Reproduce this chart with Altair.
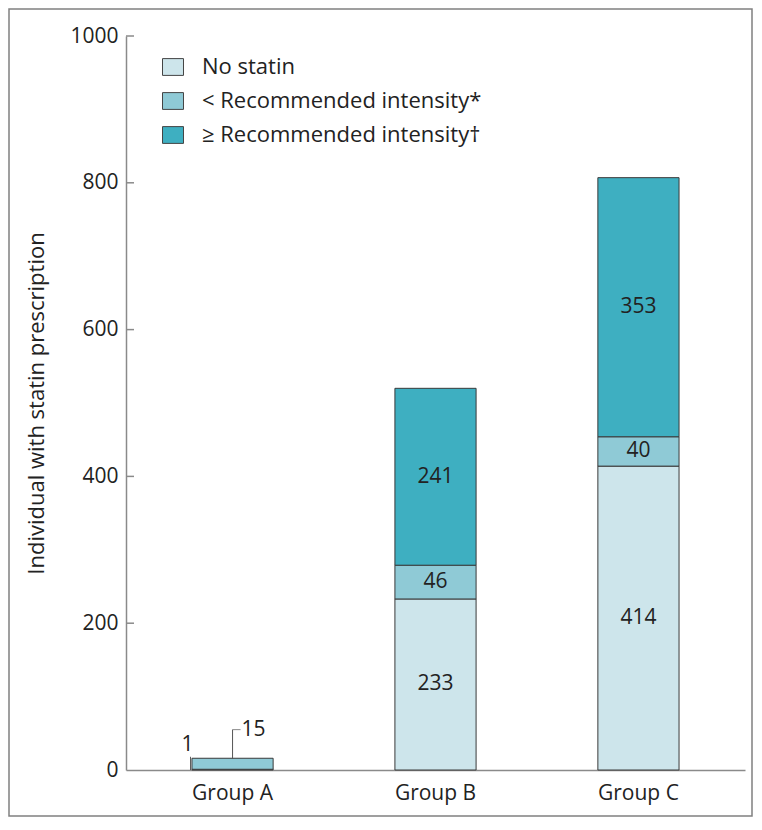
import altair as alt
import pandas as pd

groups = ["Group A", "Group B", "Group C"]
categories = ["No statin", "< Recommended intensity*", "≥ Recommended intensity†"]
no_statin = [1, 233, 414]
below_rec = [15, 46, 40]
at_or_above_rec = [0, 241, 353]
y_ticks = [0, 200, 400, 600, 800, 1000]
colors = ["#cde5eb", "#8fcad6", "#3eafc1"]

FONT = "Open Sans"

rows = []
for gi, g in enumerate(groups):
    base = 0
    for ci, (c, vals) in enumerate(zip(categories, [no_statin, below_rec, at_or_above_rec])):
        v = vals[gi]
        rows.append({"group": g, "cat": c, "order": ci, "value": v,
                     "y0": base, "y1": base + v, "mid": base + v / 2})
        base += v
df = pd.DataFrame(rows)
df_bars = df[df["value"] > 0]
df_labels = df[(df["group"] != "Group A") & (df["value"] > 0)]

W, H = 619, 734
PAD_L, PAD_T, PAD_R, PAD_B = 118, 28, 8, 47

xscale = alt.Scale(domain=groups, paddingInner=0.6, paddingOuter=0.325)
yscale = alt.Scale(domain=[0, 1000], nice=False)

bars = alt.Chart(df_bars).mark_bar(stroke="#3a3a3a", strokeWidth=1, clip=False).encode(
    x=alt.X("group:N", scale=xscale, sort=groups,
            axis=alt.Axis(title=None, labelAngle=0, ticks=False, labelFontSize=21,
                          labelPadding=12, domainColor="#8a8a8a", domainWidth=1.5,
                          labelColor="#222", labelFont=FONT)),
    y=alt.Y("y0:Q", scale=yscale,
            axis=alt.Axis(title="Individual with statin prescription", values=y_ticks,
                          format="d",
                          ticks=False, grid=False, labelFontSize=21, labelPadding=8,
                          labelColor="#222", labelFont=FONT, domainColor="#8a8a8a",
                          domainWidth=1.5, titleFontSize=22, titleFont=FONT,
                          titleFontWeight="normal", titleColor="#222", titlePadding=21)),
    y2="y1:Q",
    color=alt.Color("cat:N", scale=alt.Scale(domain=categories, range=colors),
                    legend=alt.Legend(title=None, orient="none", legendX=36, legendY=20,
                                      labelFontSize=22, labelFont=FONT, labelColor="#222",
                                      symbolType="M-1.25,-1H1.25V1H-1.25Z", symbolSize=282,
                                      symbolStrokeColor="#444", symbolStrokeWidth=1,
                                      symbolOpacity=1, rowPadding=12, labelOffset=18,
                                      labelLimit=400)),
    order=alt.Order("order:Q"),
)

labels = alt.Chart(df_labels).mark_text(fontSize=21, font=FONT, color="#222",
                                        baseline="middle").encode(
    x=alt.X("group:N", scale=xscale, sort=groups),
    y=alt.Y("mid:Q", scale=yscale),
    text=alt.Text("value:Q"),
)

# Annotations for Group A
ann = pd.DataFrame({"group": ["Group A"], "v15": [15], "top15": [55], "v1": [34], "lead1": [18], "zero": [0]})
lead15_v = alt.Chart(ann).mark_rule(color="#555", strokeWidth=1).encode(
    x=alt.X("group:N", scale=xscale, sort=groups), y=alt.Y("v15:Q", scale=yscale), y2="top15:Q")
lead15_h = alt.Chart(ann).mark_tick(color="#555", thickness=1, size=8, xOffset=4,
                                     orient="horizontal").encode(
    x=alt.X("group:N", scale=xscale, sort=groups), y=alt.Y("top15:Q", scale=yscale))
text15 = alt.Chart(ann).mark_text(fontSize=21, font=FONT, color="#222", align="left",
                                  baseline="middle", dx=9).encode(
    x=alt.X("group:N", scale=xscale, sort=groups), y=alt.Y("top15:Q", scale=yscale),
    text=alt.value("15"))
lead1 = alt.Chart(ann).mark_rule(color="#555", strokeWidth=1, xOffset=-42).encode(
    x=alt.X("group:N", scale=xscale, sort=groups), y=alt.Y("zero:Q", scale=yscale), y2="lead1:Q")
text1 = alt.Chart(ann).mark_text(fontSize=21, font=FONT, color="#222", align="center",
                                 baseline="middle", dx=-45).encode(
    x=alt.X("group:N", scale=xscale, sort=groups), y=alt.Y("v1:Q", scale=yscale),
    text=alt.value("1"))

# inward y ticks
tick_df = pd.DataFrame({"t": y_ticks[1:]})
yticks = alt.Chart(tick_df).mark_rule(color="#8a8a8a", strokeWidth=1.5).encode(
    y=alt.Y("t:Q", scale=yscale), x=alt.value(0), x2=alt.value(8))

frame = alt.Chart(pd.DataFrame({"a": [0]})).mark_rect(
    fill=None, fillOpacity=0, stroke="#808080", strokeWidth=1.5, clip=False).encode(
    x=alt.value(-PAD_L + 1), x2=alt.value(W + PAD_R - 1),
    y=alt.value(-PAD_T + 1), y2=alt.value(H + PAD_B - 1))

chart = alt.layer(frame, bars, labels, yticks, lead15_v, lead15_h, text15, lead1, text1).properties(
    width=W, height=H,
    autosize=alt.AutoSizeParams(type="none"),
    padding={"left": PAD_L, "top": PAD_T, "right": PAD_R, "bottom": PAD_B},
    view=alt.ViewBackground(strokeOpacity=0, strokeWidth=0),
).configure_view(strokeOpacity=0, strokeWidth=0).configure(background="white")

chart.save("out.html", embed_options={"renderer": "svg", "actions": False})
